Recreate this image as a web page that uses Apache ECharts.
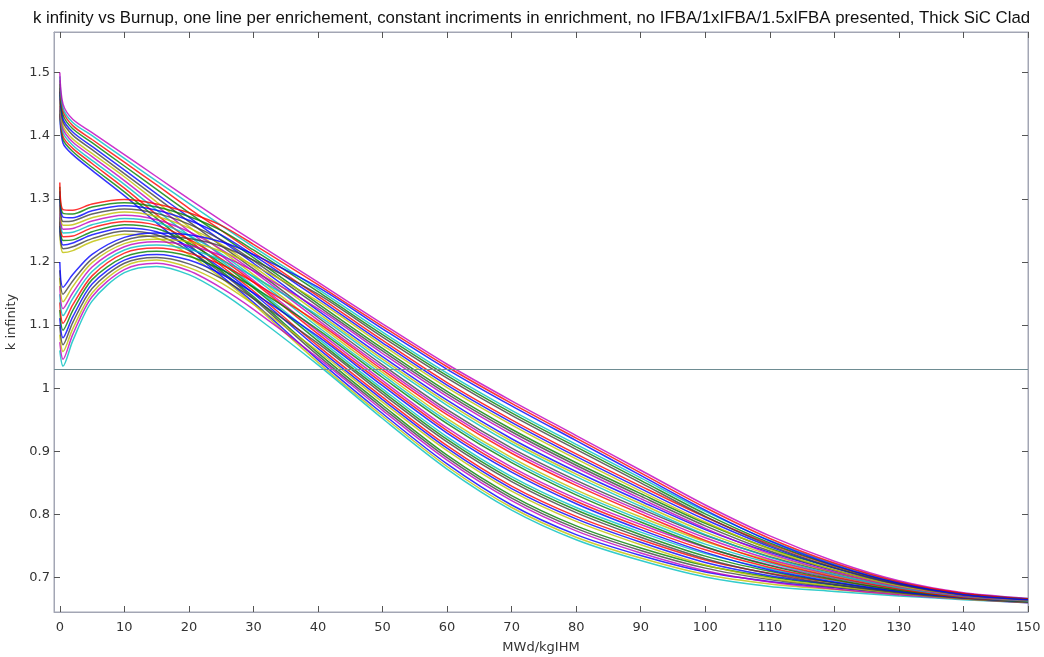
<!DOCTYPE html>
<html>
<head>
<meta charset="utf-8">
<script src="https://cdn.jsdelivr.net/npm/echarts@6/dist/echarts.min.js"></script>
<style>
html,body{margin:0;padding:0;background:#fff;}
#c{width:1044px;height:657px;}
</style>
</head>
<body>
<div id="c"></div>
<script>
// Burnup (MWd/kgIHM) sample points
const burnup = [0, 0.5, 2, 5, 10, 15, 20, 25, 30, 40, 50, 60, 70, 80, 90, 100, 110, 120, 130, 140, 150];

// k-infinity, no IFBA, one row per enrichment (low -> high)
const kNoIFBA = [
  [1.435,1.388,1.370,1.345,1.305,1.262,1.220,1.178,1.136,1.045,0.960,0.880,0.815,0.768,0.735,0.709,0.694,0.684,0.675,0.668,0.662],
  [1.441,1.394,1.375,1.350,1.311,1.269,1.227,1.186,1.145,1.056,0.973,0.894,0.830,0.782,0.747,0.719,0.701,0.688,0.677,0.669,0.662],
  [1.447,1.399,1.380,1.356,1.317,1.275,1.235,1.194,1.154,1.067,0.986,0.909,0.845,0.797,0.760,0.728,0.707,0.692,0.679,0.669,0.663],
  [1.453,1.405,1.385,1.361,1.323,1.282,1.242,1.202,1.162,1.079,0.999,0.923,0.860,0.811,0.772,0.738,0.714,0.695,0.680,0.670,0.663],
  [1.459,1.411,1.390,1.367,1.329,1.289,1.249,1.210,1.171,1.090,1.012,0.937,0.875,0.825,0.784,0.748,0.720,0.699,0.682,0.671,0.664],
  [1.465,1.416,1.395,1.372,1.335,1.295,1.256,1.218,1.180,1.101,1.025,0.952,0.890,0.839,0.796,0.757,0.727,0.703,0.684,0.672,0.664],
  [1.470,1.422,1.401,1.378,1.340,1.302,1.264,1.226,1.189,1.112,1.037,0.966,0.905,0.854,0.809,0.767,0.733,0.707,0.686,0.672,0.665],
  [1.476,1.427,1.406,1.383,1.346,1.308,1.271,1.234,1.198,1.123,1.050,0.981,0.920,0.868,0.821,0.776,0.740,0.711,0.688,0.673,0.665],
  [1.482,1.433,1.411,1.389,1.352,1.315,1.278,1.242,1.207,1.134,1.063,0.995,0.935,0.882,0.833,0.786,0.746,0.715,0.690,0.674,0.666],
  [1.488,1.439,1.416,1.394,1.358,1.322,1.285,1.250,1.215,1.146,1.076,1.009,0.950,0.896,0.845,0.796,0.753,0.718,0.691,0.675,0.666],
  [1.494,1.444,1.421,1.400,1.364,1.328,1.293,1.258,1.224,1.157,1.089,1.024,0.965,0.911,0.858,0.805,0.759,0.722,0.693,0.675,0.667],
  [1.500,1.450,1.426,1.405,1.370,1.335,1.300,1.266,1.233,1.168,1.102,1.038,0.980,0.925,0.870,0.815,0.766,0.726,0.695,0.676,0.667]
];

// k-infinity, 1x IFBA
const kIFBA1x = [
  [1.250,1.215,1.218,1.232,1.244,1.238,1.212,1.175,1.133,1.041,0.956,0.876,0.811,0.764,0.731,0.705,0.690,0.681,0.673,0.667,0.661],
  [1.257,1.221,1.224,1.237,1.249,1.243,1.218,1.183,1.142,1.052,0.969,0.890,0.826,0.778,0.743,0.715,0.697,0.685,0.675,0.668,0.661],
  [1.264,1.227,1.230,1.243,1.254,1.248,1.224,1.190,1.150,1.063,0.982,0.905,0.841,0.793,0.756,0.724,0.703,0.689,0.677,0.668,0.662],
  [1.271,1.234,1.235,1.248,1.259,1.253,1.230,1.198,1.159,1.075,0.995,0.919,0.856,0.807,0.768,0.734,0.710,0.692,0.678,0.669,0.662],
  [1.278,1.240,1.241,1.254,1.264,1.258,1.236,1.205,1.168,1.086,1.008,0.933,0.871,0.821,0.780,0.744,0.716,0.696,0.680,0.670,0.663],
  [1.285,1.246,1.247,1.259,1.269,1.263,1.242,1.213,1.176,1.097,1.021,0.948,0.886,0.835,0.792,0.753,0.723,0.700,0.682,0.671,0.663],
  [1.291,1.252,1.253,1.265,1.274,1.267,1.248,1.220,1.185,1.108,1.033,0.962,0.901,0.850,0.805,0.763,0.729,0.704,0.684,0.671,0.664],
  [1.298,1.258,1.259,1.270,1.279,1.272,1.254,1.228,1.193,1.119,1.046,0.977,0.916,0.864,0.817,0.772,0.736,0.708,0.686,0.672,0.664],
  [1.305,1.264,1.265,1.276,1.284,1.277,1.260,1.235,1.202,1.130,1.059,0.991,0.931,0.878,0.829,0.782,0.742,0.712,0.688,0.673,0.665],
  [1.312,1.271,1.270,1.281,1.289,1.282,1.266,1.243,1.211,1.142,1.072,1.005,0.946,0.892,0.841,0.792,0.749,0.715,0.689,0.674,0.665],
  [1.319,1.277,1.276,1.287,1.294,1.287,1.272,1.250,1.219,1.153,1.085,1.020,0.961,0.907,0.854,0.801,0.755,0.719,0.691,0.674,0.666],
  [1.326,1.283,1.282,1.292,1.299,1.292,1.278,1.258,1.228,1.164,1.098,1.034,0.976,0.921,0.866,0.811,0.762,0.723,0.693,0.675,0.666]
];

// k-infinity, 1.5x IFBA
const kIFBA15x = [
  [1.060,1.035,1.075,1.138,1.183,1.193,1.180,1.152,1.116,1.037,0.952,0.872,0.807,0.760,0.727,0.701,0.686,0.678,0.671,0.665,0.660],
  [1.073,1.046,1.085,1.145,1.188,1.198,1.186,1.159,1.125,1.048,0.965,0.886,0.822,0.774,0.739,0.711,0.693,0.682,0.673,0.666,0.660],
  [1.085,1.058,1.094,1.151,1.193,1.203,1.191,1.167,1.133,1.059,0.978,0.901,0.837,0.789,0.752,0.720,0.699,0.686,0.675,0.666,0.661],
  [1.098,1.069,1.104,1.158,1.198,1.207,1.197,1.174,1.142,1.071,0.991,0.915,0.852,0.803,0.764,0.730,0.706,0.689,0.676,0.667,0.661],
  [1.111,1.080,1.113,1.165,1.203,1.212,1.203,1.181,1.151,1.082,1.004,0.929,0.867,0.817,0.776,0.740,0.712,0.693,0.678,0.668,0.662],
  [1.124,1.092,1.123,1.172,1.208,1.217,1.209,1.188,1.160,1.093,1.017,0.944,0.882,0.831,0.788,0.749,0.719,0.697,0.680,0.669,0.662],
  [1.136,1.103,1.132,1.178,1.214,1.222,1.214,1.196,1.168,1.104,1.029,0.958,0.897,0.846,0.801,0.759,0.725,0.701,0.682,0.669,0.663],
  [1.149,1.115,1.142,1.185,1.219,1.227,1.220,1.203,1.177,1.115,1.042,0.973,0.912,0.860,0.813,0.768,0.732,0.705,0.684,0.670,0.663],
  [1.162,1.126,1.151,1.192,1.224,1.232,1.226,1.210,1.186,1.126,1.055,0.987,0.927,0.874,0.825,0.778,0.738,0.709,0.686,0.671,0.664],
  [1.175,1.137,1.161,1.199,1.229,1.236,1.232,1.217,1.195,1.138,1.068,1.001,0.942,0.888,0.837,0.788,0.745,0.712,0.687,0.672,0.664],
  [1.187,1.149,1.170,1.205,1.234,1.241,1.237,1.225,1.203,1.149,1.081,1.016,0.957,0.903,0.850,0.797,0.751,0.716,0.689,0.672,0.665],
  [1.200,1.160,1.180,1.212,1.239,1.246,1.243,1.232,1.212,1.160,1.094,1.030,0.972,0.917,0.862,0.807,0.758,0.720,0.691,0.673,0.665]
];

const targetK = 1.035;
const xTicks = [0,10,20,30,40,50,60,70,80,90,100,110,120,130,140,150];
const yTicks = [0.7,0.8,0.9,1.0,1.1,1.2,1.3,1.4,1.5];

const titleText = 'k infinity vs Burnup, one line per enrichement, constant incriments in enrichment, no IFBA/1xIFBA/1.5xIFBA presented, Thick SiC Clad';
const colorOrder = ['#0000ff','#008000','#ff0000','#00bfbf','#bf00bf','#bfbf00','#404040'];

const series = [];
let ci = 0;
[kNoIFBA, kIFBA1x, kIFBA15x].forEach(group => {
  group.forEach(row => {
    series.push({
      type: 'line',
      data: row.map((v, i) => [burnup[i], v]),
      showSymbol: false,
      symbol: 'none',
      smooth: 0.3,
      silent: true,
      lineStyle: { width: 1.5, color: colorOrder[ci % colorOrder.length], opacity: 0.8 },
      z: 3
    });
    ci++;
  });
});
series.push({
  type: 'line',
  data: [],
  markLine: {
    silent: true,
    symbol: 'none',
    label: { show: false },
    lineStyle: { color: '#6e8c92', width: 1.2, type: 'solid' },
    data: [{ yAxis: targetK }]
  }
});

const axisFont = { fontFamily: 'DejaVu Sans', fontSize: 13, color: '#333' };
const frameColor = '#a3a6b4';
const tickStyle = { color: '#555', width: 1 };

const chart = echarts.init(document.getElementById('c'), null, { renderer: 'canvas' });
chart.setOption({
  animation: false,
  backgroundColor: '#fff',
  title: {
    text: titleText,
    left: 28,
    top: 5,
    textStyle: { fontFamily: 'Liberation Sans, sans-serif', fontSize: 16.8, fontWeight: 'normal', color: '#111' }
  },
  grid: { left: 54, right: 16, top: 32, bottom: 45, containLabel: false, outerBoundsMode: 'none', show: true, borderColor: frameColor, borderWidth: 1 },
  xAxis: [{
    type: 'value', min: -0.9, max: 150,
    name: 'MWd/kgIHM', nameLocation: 'middle', nameGap: 29,
    nameTextStyle: axisFont,
    axisLine: { onZero: false, lineStyle: { color: frameColor } },
    axisTick: { inside: true, length: 6, customValues: xTicks, lineStyle: tickStyle },
    axisLabel: Object.assign({ customValues: xTicks, margin: 9 }, axisFont),
    splitLine: { show: false }
  }, {
    type: 'value', min: -0.9, max: 150, position: 'top',
    axisLine: { onZero: false, lineStyle: { color: frameColor } },
    axisTick: { inside: true, length: 6, customValues: xTicks, lineStyle: tickStyle },
    axisLabel: { show: false },
    splitLine: { show: false }
  }],
  yAxis: [{
    type: 'value', min: 0.6455, max: 1.5643,
    name: 'k infinity', nameLocation: 'middle', nameGap: 28,
    nameTextStyle: axisFont,
    axisLine: { show: true, onZero: false, lineStyle: { color: frameColor } },
    axisTick: { show: true, inside: true, length: 6, customValues: yTicks, lineStyle: tickStyle },
    axisLabel: Object.assign({ customValues: yTicks, margin: 4, formatter: v => (Math.round(v*10)/10).toString() }, axisFont),
    splitLine: { show: false }
  }, {
    type: 'value', min: 0.6455, max: 1.5643, position: 'right',
    axisLine: { show: true, onZero: false, lineStyle: { color: frameColor } },
    axisTick: { show: true, inside: true, length: 6, customValues: yTicks, lineStyle: tickStyle },
    axisLabel: { show: false },
    splitLine: { show: false }
  }],
  series: series
});
</script>
</body>
</html>
